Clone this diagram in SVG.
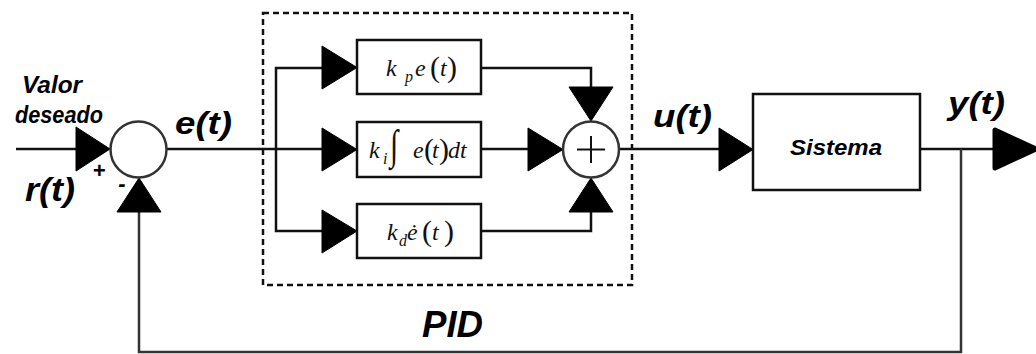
<svg xmlns="http://www.w3.org/2000/svg" width="1036" height="354" viewBox="0 0 1036 354">
<style>
.ln{fill:none;stroke:#111;stroke-width:2.5}
.fb{fill:none;stroke:#333;stroke-width:2.5}
.box{fill:#fff;stroke:#111;stroke-width:2.5}
.sum{fill:#fff;stroke:#333;stroke-width:2.5}
.arr{fill:#000;stroke:#000;stroke-width:1}
.lbl{font-family:"Liberation Sans",Arial,sans-serif;font-weight:bold;font-style:italic;fill:#000}
.m{font-family:"Liberation Serif","Times New Roman",serif;font-style:italic;fill:#111;font-size:24px}
.s{font-family:"Liberation Serif","Times New Roman",serif;font-style:italic;fill:#111;font-size:16px}
.mp{font-family:"Liberation Serif","Times New Roman",serif;font-style:normal;fill:#111;font-size:30px}
</style>
<rect width="1036" height="354" fill="#fff"/>
<g id="connectors">
  <line class="ln" x1="16" y1="149" x2="80" y2="149"/>
  <line class="ln" x1="167" y1="149" x2="325" y2="149"/>
  <polyline class="ln" points="325,68 276,68 276,231 325,231"/>
  <polyline class="ln" points="481,68 591,68 591,90"/>
  <line class="ln" x1="481" y1="149" x2="530" y2="149"/>
  <polyline class="ln" points="481,231 591,231 591,210"/>
  <line class="ln" x1="619" y1="149" x2="722" y2="149"/>
  <line class="ln" x1="920" y1="149" x2="996" y2="149"/>
  <polyline class="fb" points="961,149 961,352 139,352 139,210"/>
  <polygon class="arr" points="76,127 76,171 110,149"/>
  <polygon class="arr" points="322,46 322,89 357,67.5"/>
  <polygon class="arr" points="322,128 322,171 357,149.5"/>
  <polygon class="arr" points="322,210 322,253 357,231"/>
  <polygon class="arr" points="569,87 613,87 591,121"/>
  <polygon class="arr" points="528,128 528,171 563,149.5"/>
  <polygon class="arr" points="569,212 613,212 591,178"/>
  <polygon class="arr" points="719,128 719,171 753,149.5"/>
  <polygon points="995,130 995,168 1036,149" fill="#000" stroke="#000" stroke-width="5" stroke-linejoin="round"/>
  <polygon class="arr" points="117,212 161,212 139,178"/>
</g>
<g id="pid-box">
  <rect x="263" y="13" width="369" height="272" fill="none" stroke="#111" stroke-width="2.5" stroke-dasharray="6,4"/>
  <text class="lbl" x="422" y="337" font-size="37" textLength="61" lengthAdjust="spacingAndGlyphs">PID</text>
</g>
<g id="sum1">
  <circle class="sum" cx="138.5" cy="149.5" r="28"/>
  <text class="lbl" x="99" y="178" font-size="22" font-style="normal" text-anchor="middle">+</text>
  <text class="lbl" x="122" y="191" font-size="22" font-style="normal" text-anchor="middle">-</text>
</g>
<g id="sum2">
  <circle class="sum" cx="591" cy="149.5" r="28"/>
  <line x1="577" y1="149.5" x2="605" y2="149.5" stroke="#111" stroke-width="2"/>
  <line x1="591" y1="136" x2="591" y2="163" stroke="#111" stroke-width="2"/>
</g>
<g id="kp">
  <rect class="box" x="357" y="40" width="124" height="54"/>
  <text class="m" x="386" y="76">k</text>
  <text class="s" x="405" y="82">p</text>
  <text class="m" x="415" y="76">e</text>
  <text class="mp" x="430" y="77">(</text>
  <text class="m" x="440" y="76">t</text>
  <text class="mp" x="447" y="77">)</text>
</g>
<g id="ki">
  <rect class="box" x="357" y="122" width="124" height="55"/>
  <text class="m" x="369" y="158">k</text>
  <text class="s" x="383" y="164">i</text>
  <text class="mp" transform="translate(390,159) scale(1,1.4)" x="0" y="0" font-size="36">∫</text>
  <text class="m" x="413" y="158">e</text>
  <text class="mp" x="424" y="159">(</text>
  <text class="m" x="432" y="158">t</text>
  <text class="mp" x="439" y="159">)</text>
  <text class="m" x="448" y="158">dt</text>
</g>
<g id="kd">
  <rect class="box" x="357" y="204" width="124" height="54"/>
  <text class="m" x="387" y="240">k</text>
  <text class="s" x="399" y="246">d</text>
  <text class="m" x="407" y="240">ė</text>
  <text class="mp" x="422" y="241">(</text>
  <text class="m" x="432" y="240">t</text>
  <text class="mp" x="444" y="241">)</text>
</g>
<g id="sistema">
  <rect class="box" x="753" y="94" width="167" height="96"/>
  <text class="lbl" x="790" y="155" font-size="22" textLength="92" lengthAdjust="spacingAndGlyphs">Sistema</text>
</g>
<g id="labels">
  <text class="lbl" x="22" y="93" font-size="24" textLength="60" lengthAdjust="spacingAndGlyphs">Valor</text>
  <text class="lbl" x="15" y="123" font-size="24" textLength="88" lengthAdjust="spacingAndGlyphs">deseado</text>
  <text class="lbl" x="25" y="201" font-size="33" textLength="50" lengthAdjust="spacingAndGlyphs">r(t)</text>
  <text class="lbl" x="175" y="134" font-size="31" textLength="57" lengthAdjust="spacingAndGlyphs">e(t)</text>
  <text class="lbl" x="653" y="127" font-size="31" textLength="59" lengthAdjust="spacingAndGlyphs">u(t)</text>
  <text class="lbl" x="948" y="114" font-size="31" textLength="57" lengthAdjust="spacingAndGlyphs">y(t)</text>
</g>
</svg>
